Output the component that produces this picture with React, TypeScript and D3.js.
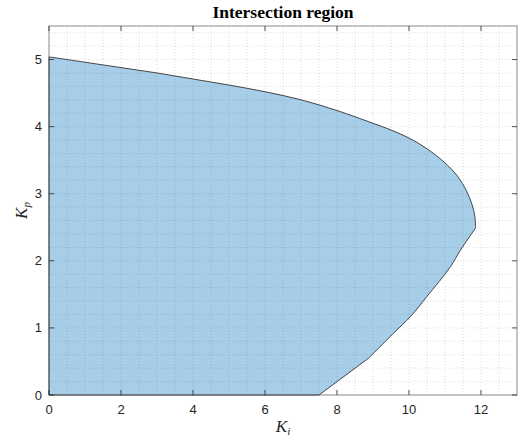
import React, { useEffect, useRef } from "react";
import * as d3 from "d3";

// upper boundary (Kp as Ki grows) up to the tip
const upperKi = [0, 1, 2, 3, 4, 5, 6, 7, 8, 9, 9.5, 10, 10.5, 11, 11.35, 11.6, 11.75, 11.83, 11.85];
const upperKp = [5.04, 4.96, 4.88, 4.8, 4.71, 4.62, 4.52, 4.4, 4.24, 4.05, 3.95, 3.83, 3.67, 3.46, 3.26, 3.04, 2.84, 2.66, 2.49];
// lower boundary from the tip down towards the Ki axis
const lowerKi = [11.85, 11.43, 11.15, 10.5, 10.04, 9.57, 8.88];
const lowerKp = [2.49, 2.16, 1.91, 1.47, 1.17, 0.92, 0.55];
const footKi = 7.5;

const xTicks = [0, 2, 4, 6, 8, 10, 12];
const yTicks = [0, 1, 2, 3, 4, 5];

const App = () => {
  const svgRef = useRef<SVGSVGElement>(null);

  useEffect(() => {
    const svg = d3.select(svgRef.current);
    svg.selectAll("*").remove();

    const width = 518;
    const height = 443;
    const margin = { top: 26, right: 1, bottom: 48, left: 49 };

    const x = d3.scaleLinear().domain([0, 13]).range([margin.left, width - margin.right]);
    const y = d3.scaleLinear().domain([0, 5.5]).range([height - margin.bottom, margin.top]);

    const upper: [number, number][] = upperKi.map((k, i) => [k, upperKp[i]]);
    const lower: [number, number][] = lowerKi.map((k, i) => [k, lowerKp[i]]);

    const smooth = d3.line<[number, number]>()
      .x(d => x(d[0]))
      .y(d => y(d[1]))
      .curve(d3.curveCatmullRom.alpha(0.5));

    // region outline: origin -> up the Kp axis -> upper arc -> tip -> lower arc -> foot -> back
    const regionPath =
      `M${x(0)},${y(0)}L${x(0)},${y(upperKp[0])}` +
      smooth(upper)!.replace(/^M[^CL]*/, "") +
      smooth(lower)!.replace(/^M[^CL]*/, "") +
      `L${x(footKi)},${y(0)}Z`;

    svg.append("path")
      .attr("d", regionPath)
      .attr("fill", "rgb(166,206,232)")
      .attr("stroke", "none");

    // minor grid
    const grid = svg.append("g");
    d3.range(0.5, 13, 0.5).forEach(v => {
      grid.append("line")
        .attr("x1", x(v)).attr("x2", x(v))
        .attr("y1", y(0)).attr("y2", y(5.5))
        .attr("stroke", "rgba(38,38,38,0.22)")
        .attr("stroke-width", 0.7)
        .attr("stroke-dasharray", "1,2");
    });
    d3.range(0.2, 5.5, 0.2).forEach(v => {
      grid.append("line")
        .attr("x1", x(0)).attr("x2", x(13))
        .attr("y1", y(v)).attr("y2", y(v))
        .attr("stroke", "rgba(38,38,38,0.22)")
        .attr("stroke-width", 0.7)
        .attr("stroke-dasharray", "1,2");
    });

    // axes box
    svg.append("rect")
      .attr("x", x(0)).attr("y", y(5.5))
      .attr("width", x(13) - x(0)).attr("height", y(0) - y(5.5))
      .attr("fill", "none")
      .attr("stroke", "#8a8a8a")
      .attr("stroke-width", 1);

    // outline of the region
    svg.append("path")
      .attr("d", regionPath)
      .attr("fill", "none")
      .attr("stroke", "#333")
      .attr("stroke-width", 0.9);

    const tickLen = 5;
    const ticks = svg.append("g").attr("stroke", "#262626").attr("stroke-width", 0.8);
    xTicks.forEach(v => {
      ticks.append("line").attr("x1", x(v)).attr("x2", x(v)).attr("y1", y(0)).attr("y2", y(0) - tickLen);
      ticks.append("line").attr("x1", x(v)).attr("x2", x(v)).attr("y1", y(5.5)).attr("y2", y(5.5) + tickLen);
    });
    yTicks.forEach(v => {
      ticks.append("line").attr("x1", x(0)).attr("x2", x(0) + tickLen).attr("y1", y(v)).attr("y2", y(v));
      ticks.append("line").attr("x1", x(13)).attr("x2", x(13) - tickLen).attr("y1", y(v)).attr("y2", y(v));
    });

    const labelFont = "'Liberation Sans', Arial, sans-serif";
    svg.append("g")
      .selectAll("text")
      .data(xTicks)
      .enter()
      .append("text")
      .attr("x", d => x(d))
      .attr("y", y(0) + 19)
      .attr("text-anchor", "middle")
      .attr("font-family", labelFont)
      .attr("font-size", 13)
      .attr("fill", "#262626")
      .text(d => d);

    svg.append("g")
      .selectAll("text")
      .data(yTicks)
      .enter()
      .append("text")
      .attr("x", x(0) - 7)
      .attr("y", d => y(d) + 4.5)
      .attr("text-anchor", "end")
      .attr("font-family", labelFont)
      .attr("font-size", 13)
      .attr("fill", "#262626")
      .text(d => d);

    const serif = "'Liberation Serif', 'DejaVu Serif', serif";
    svg.append("text")
      .attr("x", (x(0) + x(13)) / 2)
      .attr("y", 18)
      .attr("text-anchor", "middle")
      .attr("font-family", serif)
      .attr("font-weight", "bold")
      .attr("font-size", 17.5)
      .attr("fill", "#000")
      .text("Intersection region");

    const xl = svg.append("text")
      .attr("x", (x(0) + x(13)) / 2)
      .attr("y", 432)
      .attr("text-anchor", "middle")
      .attr("font-family", serif)
      .attr("font-style", "italic")
      .attr("font-size", 17)
      .attr("fill", "#262626");
    xl.append("tspan").text("K");
    xl.append("tspan").attr("font-size", 11).attr("dy", 3).text("i");

    const yl = svg.append("text")
      .attr("transform", `translate(27,${(y(0) + y(5.5)) / 2}) rotate(-90)`)
      .attr("text-anchor", "middle")
      .attr("font-family", serif)
      .attr("font-style", "italic")
      .attr("font-size", 17)
      .attr("fill", "#262626");
    yl.append("tspan").text("K");
    yl.append("tspan").attr("font-size", 11).attr("dy", 3).text("p");
  }, []);

  return (
    <svg
      ref={svgRef}
      width={518}
      height={443}
      style={{ position: "absolute", left: 0, top: 0, background: "#fff" }}
    ></svg>
  );
};

export default App;
